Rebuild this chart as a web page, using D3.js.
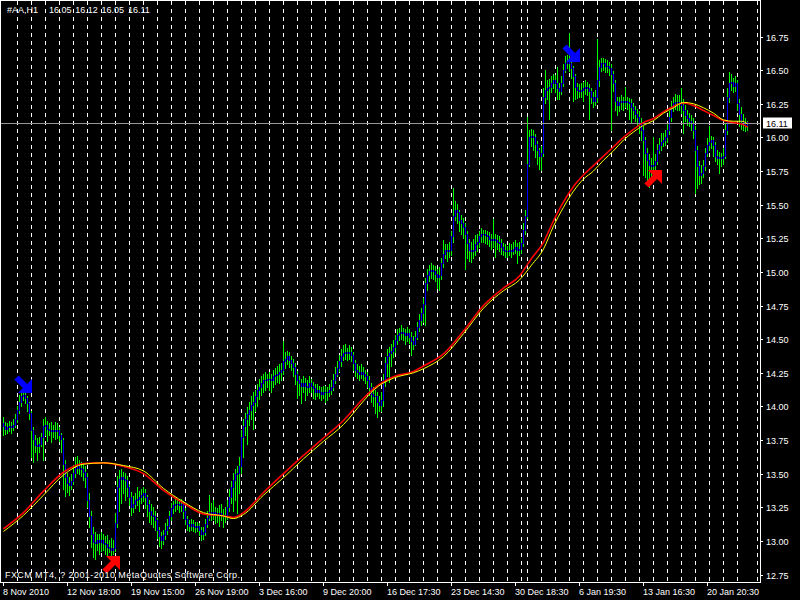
<!DOCTYPE html>
<html><head><meta charset="utf-8">
<script src="https://cdn.jsdelivr.net/npm/d3@7"></script>
<style>
html,body{margin:0;padding:0;background:#000;}
svg{display:block;}
text{font-family:"Liberation Sans",Arial,sans-serif;}
</style></head>
<body><svg id="chart" width="800" height="600"></svg>
<script>
// ---------------- DATA ----------------
const symbolLabel = "#AA,H1";
const lastQuote = [16.05, 16.12, 16.05, 16.11];   // O H L C of last bar
const bidPrice = 16.11;
const firstOpen = 13.87;
const footerText = "FXCM MT4, ? 2001-2010 MetaQuotes Software Corp.";

const closes = [
13.85,13.83,13.84,13.85,13.84,13.86,13.90,
13.97,14.03,14.07,14.08,14.06,14.02,13.95,
13.82,13.75,13.71,13.70,13.72,13.77,13.85,
13.86,13.83,13.82,13.81,13.82,13.81,13.82,
13.78,13.75,13.57,13.47,13.43,13.41,13.44,
13.50,13.54,13.55,13.54,13.53,13.51,13.47,
13.30,13.18,13.05,12.99,12.98,13.00,12.99,
13.00,12.98,12.97,12.95,12.94,12.93,12.94,
13.13,13.40,13.46,13.47,13.46,13.45,13.40,
13.32,13.25,13.27,13.30,13.31,13.32,13.34,
13.35,13.32,13.27,13.22,13.19,13.18,13.15,
13.08,13.03,13.00,13.04,13.08,13.11,13.18,
13.24,13.26,13.27,13.27,13.26,13.27,13.22,
13.16,13.12,13.11,13.12,13.11,13.10,13.11,
13.08,13.05,13.06,13.12,13.17,13.21,13.20,
13.21,13.20,13.19,13.20,13.19,13.18,13.19,
13.25,13.32,13.40,13.45,13.49,13.50,13.55,
13.77,13.85,13.90,13.94,13.97,14.01,14.03,
14.07,14.12,14.14,14.17,14.19,14.19,14.20,
14.20,14.19,14.22,14.23,14.24,14.25,14.27,
14.33,14.35,14.37,14.34,14.32,14.29,14.24,
14.19,14.17,14.15,14.17,14.15,14.14,14.17,
14.15,14.13,14.10,14.12,14.10,14.09,14.10,
14.10,14.10,14.12,14.14,14.19,14.24,14.28,
14.33,14.37,14.39,14.40,14.39,14.40,14.38,
14.32,14.27,14.25,14.24,14.25,14.24,14.22,
14.19,14.14,14.09,14.07,14.07,14.03,14.01,
14.04,14.19,14.32,14.37,14.39,14.41,14.44,
14.49,14.53,14.54,14.55,14.54,14.53,14.54,
14.51,14.48,14.46,14.51,14.59,14.64,14.69,
14.76,14.91,14.97,15.00,15.01,15.00,14.98,
14.96,14.97,15.06,15.13,15.16,15.15,15.16,
15.26,15.41,15.46,15.44,15.38,15.36,15.33,
15.28,15.21,15.16,15.15,15.16,15.20,15.22,
15.26,15.28,15.28,15.27,15.26,15.24,15.23,
15.24,15.23,15.22,15.21,15.18,15.16,15.15,
15.15,15.16,15.15,15.17,15.18,15.16,15.17,
15.21,15.31,15.41,
15.80,16.00,16.01,16.00,15.95,15.90,15.86,
15.88,16.30,16.35,16.36,16.37,16.40,16.42,
16.40,16.36,16.34,16.40,16.50,16.55,16.56,
16.55,16.51,16.45,16.37,16.35,16.34,16.35,
16.36,16.37,16.36,16.34,16.30,16.27,16.30,
16.42,16.52,16.55,16.55,16.53,16.53,16.51,
16.47,16.40,16.27,16.24,16.26,16.27,16.26,
16.27,16.26,16.25,16.22,16.20,16.17,16.15,
16.10,16.05,15.98,15.88,15.83,15.79,15.78,
15.79,15.82,15.90,15.94,15.96,15.98,16.00,
16.05,16.15,16.22,16.25,16.26,16.26,16.25,
16.24,16.20,16.16,16.14,16.12,16.10,16.05,
15.90,15.78,15.72,15.73,15.78,15.88,15.94,
15.96,15.98,15.94,15.86,15.84,15.85,15.84,
15.86,16.05,16.30,16.40,16.41,16.38,16.40,
16.25,16.17,16.12,16.10,16.09,16.11
];

const highs = [
13.92,13.88,13.87,13.89,13.88,13.90,13.94,
14.00,14.08,14.12,14.11,14.10,14.07,14.03,
13.96,13.84,13.78,13.76,13.77,13.80,13.90,
13.92,13.89,13.87,13.88,13.86,13.88,13.87,
13.84,13.80,13.76,13.60,13.50,13.47,13.49,
13.56,13.62,13.63,13.60,13.58,13.57,13.55,
13.50,13.35,13.22,13.10,13.06,13.05,13.05,
13.06,13.05,13.03,13.04,13.00,13.02,13.00,
13.20,13.48,13.52,13.53,13.51,13.50,13.48,
13.42,13.36,13.33,13.35,13.40,13.37,13.38,
13.40,13.38,13.34,13.30,13.27,13.25,13.22,
13.17,13.10,13.06,13.08,13.13,13.16,13.22,
13.28,13.29,13.31,13.30,13.29,13.31,13.29,
13.24,13.18,13.15,13.16,13.15,13.14,13.14,
13.13,13.10,13.10,13.16,13.22,13.34,13.28,
13.30,13.25,13.24,13.26,13.27,13.23,13.25,
13.30,13.38,13.44,13.50,13.53,13.55,13.62,
13.82,13.90,13.95,13.99,14.03,14.07,14.10,
14.12,14.16,14.20,14.22,14.24,14.25,14.24,
14.25,14.24,14.27,14.28,14.30,14.31,14.32,
14.48,14.40,14.41,14.40,14.37,14.35,14.32,
14.26,14.22,14.20,14.22,14.21,14.19,14.22,
14.20,14.18,14.16,14.16,14.15,14.14,14.15,
14.15,14.14,14.16,14.19,14.24,14.29,14.33,
14.38,14.42,14.45,14.46,14.43,14.45,14.44,
14.40,14.34,14.31,14.30,14.31,14.29,14.27,
14.25,14.22,14.17,14.14,14.12,14.10,14.07,
14.10,14.24,14.36,14.42,14.44,14.46,14.49,
14.53,14.57,14.58,14.60,14.58,14.57,14.59,
14.57,14.55,14.52,14.56,14.62,14.68,14.73,
14.80,14.95,15.02,15.05,15.06,15.05,15.04,
15.02,15.03,15.10,15.23,15.20,15.20,15.22,
15.30,15.62,15.52,15.50,15.46,15.42,15.40,
15.36,15.30,15.24,15.22,15.24,15.27,15.28,
15.30,15.32,15.31,15.31,15.30,15.29,15.28,
15.39,15.28,15.27,15.26,15.24,15.21,15.20,
15.19,15.21,15.20,15.22,15.23,15.21,15.22,
15.25,15.36,15.46,
16.15,16.05,16.06,16.05,16.02,15.97,15.92,
15.93,16.36,16.50,16.42,16.43,16.45,16.47,
16.46,16.52,16.40,16.45,16.54,16.60,16.61,
16.77,16.58,16.53,16.47,16.40,16.39,16.40,
16.41,16.42,16.41,16.39,16.36,16.33,16.35,
16.73,16.57,16.59,16.59,16.58,16.57,16.56,
16.54,16.49,16.42,16.30,16.30,16.31,16.30,
16.37,16.30,16.29,16.28,16.25,16.23,16.21,
16.19,16.14,16.08,16.00,15.92,15.87,15.84,
16.00,15.87,15.95,15.99,16.03,16.03,16.05,
16.10,16.19,16.27,16.30,16.32,16.31,16.31,
16.36,16.28,16.24,16.20,16.18,16.16,16.14,
16.08,15.93,15.82,15.79,15.83,15.92,15.99,
16.08,16.01,16.00,15.96,15.90,15.89,15.88,
15.92,16.10,16.36,16.48,16.47,16.44,16.45,
16.42,16.28,16.22,16.17,16.14,16.12
];

const lows = [
13.78,13.79,13.80,13.81,13.80,13.82,13.84,
13.88,13.95,14.00,14.04,14.02,13.96,13.90,
13.62,13.58,13.66,13.60,13.66,13.70,13.60,
13.78,13.74,13.78,13.73,13.77,13.75,13.76,
13.74,13.66,13.38,13.33,13.36,13.34,13.38,
13.42,13.47,13.50,13.49,13.48,13.45,13.40,
13.25,13.10,12.95,12.88,12.86,12.93,12.90,
12.92,12.93,12.90,12.89,12.91,12.88,12.90,
12.92,13.10,13.22,13.28,13.35,13.30,13.33,
13.26,13.19,13.21,13.24,13.26,13.22,13.28,
13.29,13.24,13.18,13.14,13.12,13.10,13.08,
13.02,12.96,12.94,12.97,13.01,13.05,13.09,
13.15,13.20,13.22,13.23,13.21,13.22,13.17,
13.12,13.08,13.07,13.08,13.07,13.06,13.07,
13.04,13.00,13.01,13.04,13.10,13.15,13.15,
13.16,13.13,13.14,13.11,13.15,13.10,13.14,
13.16,13.22,13.28,13.22,13.30,13.20,13.35,
13.50,13.62,13.78,13.72,13.86,13.90,13.83,
13.96,14.00,14.05,14.08,14.10,14.12,14.14,
14.12,14.10,14.14,14.16,14.18,14.17,14.19,
14.24,14.28,14.31,14.29,14.27,14.22,14.16,
14.06,14.08,14.02,14.10,14.04,14.08,14.10,
14.10,14.06,14.05,14.07,14.06,14.04,14.06,
14.03,14.04,14.07,14.09,14.12,14.17,14.22,
14.26,14.30,14.34,14.35,14.34,14.35,14.33,
14.27,14.22,14.21,14.19,14.21,14.19,14.17,
14.14,14.08,14.03,14.00,13.95,13.92,13.96,
13.96,14.00,14.15,14.22,14.18,14.30,14.36,
14.40,14.46,14.49,14.50,14.49,14.46,14.48,
14.47,14.38,14.42,14.45,14.50,14.56,14.60,
14.62,14.60,14.86,14.93,14.95,14.94,14.93,
14.88,14.86,14.94,15.03,15.10,15.08,15.11,
15.12,15.22,15.38,15.36,15.30,15.28,15.25,
15.02,15.10,15.08,15.07,15.10,15.12,15.15,
15.18,15.22,15.22,15.21,15.20,15.19,15.17,
15.18,15.11,15.17,15.15,15.13,15.12,15.11,
15.11,15.12,15.11,15.13,15.14,15.06,15.12,
15.14,15.19,15.28,
15.40,15.78,15.93,15.90,15.85,15.80,15.76,
15.75,15.86,16.25,16.28,16.13,16.33,16.36,
16.33,16.28,16.28,16.32,16.38,16.48,16.51,
16.49,16.44,16.27,16.28,16.29,16.30,16.30,
16.27,16.32,16.31,16.13,16.25,16.22,16.24,
16.26,16.38,16.49,16.50,16.48,16.48,16.46,
16.05,16.34,16.20,16.16,16.19,16.21,16.20,
16.22,16.21,16.13,16.10,16.14,16.12,16.09,
16.03,15.98,15.72,15.70,15.66,15.63,15.70,
15.72,15.75,15.80,15.88,15.90,15.93,15.94,
15.96,16.02,16.12,16.19,16.21,16.20,16.20,
16.18,16.03,16.12,16.09,16.08,16.05,15.99,
15.58,15.62,15.65,15.66,15.70,15.75,15.86,
15.90,15.92,15.86,15.82,15.80,15.73,15.78,
15.80,15.84,16.02,16.26,16.35,16.33,16.34,
16.20,16.08,16.06,16.05,16.04,16.05
];

// moving averages read at sample bars
const maBars = [0,10,20,30,40,50,60,70,80,90,100,110,115,120,130,140,150,160,170,180,185,195,205,210,220,230,240,250,258,264,270,275,280,285,290,295,300,305,310,315,320,325,330,335,340,345,350,355,360,365,369,372];
const maYellow = [13.07,13.19,13.34,13.49,13.57,13.58,13.56,13.52,13.39,13.29,13.21,13.185,13.166,13.196,13.34,13.47,13.61,13.74,13.865,14.04,14.12,14.21,14.25,14.28,14.37,14.54,14.73,14.86,14.94,15.05,15.17,15.34,15.48,15.60,15.69,15.75,15.83,15.90,15.98,16.04,16.09,16.125,16.18,16.22,16.26,16.25,16.22,16.18,16.13,16.12,16.12,16.10];
const maRed = [13.09,13.21,13.37,13.51,13.575,13.58,13.555,13.50,13.375,13.28,13.20,13.185,13.174,13.21,13.36,13.50,13.635,13.765,13.895,14.06,14.13,14.22,14.26,14.30,14.39,14.56,14.75,14.88,14.97,15.10,15.22,15.38,15.52,15.635,15.72,15.79,15.86,15.93,16.00,16.06,16.11,16.14,16.19,16.23,16.256,16.237,16.20,16.163,16.125,16.11,16.10,16.077];

// signal arrows
const signalBars = [10, 284, 54, 325];
const signalPrices = [14.166, 16.627, 12.82, 15.687];
const signalTypes = ["sell", "sell", "buy", "buy"];

// axes
const priceTicks = [12.75,13.00,13.25,13.50,13.75,14.00,14.25,14.50,14.75,15.00,15.25,15.50,15.75,16.00,16.25,16.50,16.75];
const dateTickBars = [0,32,64,96,128,160,192,224,256,288,320,352];
const dateLabels = ["8 Nov 2010","12 Nov 18:00","19 Nov 15:00","26 Nov 19:00","3 Dec 16:00","9 Dec 20:00","16 Dec 17:30","23 Dec 14:30","30 Dec 18:30","6 Jan 19:30","13 Jan 16:30","20 Jan 20:30"];
const sessionStarts = [7,14,21,28,35,42,49,56,63,70,77,84,91,98,105,112,119,126,133,140,147,154,161,168,175,182,189,196,203,210,217,224,231,238,245,252,259,262,269,276,283,290,297,304,311,318,325,332,339,346,353,360,367,377];

// ---------------- DRAW ----------------
const W = 800, H = 600, PR = 760, PB = 582;
const x = d3.scaleLinear().domain([0, 1]).range([3, 5]);
const y = d3.scaleLinear().domain([12.75, 16.75]).range([574.5, 36.5]);
const px = i => Math.round(x(i));

const svg = d3.select("#chart");
svg.append("rect").attr("width", W).attr("height", H).attr("fill", "#000");

// vertical dashed grid
svg.append("g").attr("shape-rendering", "crispEdges")
  .selectAll("line").data(sessionStarts).join("line")
  .attr("x1", d => px(d) + 0.5).attr("x2", d => px(d) + 0.5)
  .attr("y1", 1).attr("y2", PB)
  .attr("stroke", "#ffffff").attr("stroke-width", 1).attr("stroke-dasharray", "4,4");

// candles: green shadows, blue bodies
const bars = closes.map((c, i) => ({
  i, c, o: i === 0 ? firstOpen : closes[i - 1], h: highs[i], l: lows[i]
}));
const barTop = d => Math.floor(y(Math.max(d.h, d.o, d.c)));
const barBot = d => Math.ceil(y(Math.min(d.l, d.o, d.c)));
const bodyTop = d => Math.floor(y(Math.max(d.o, d.c)));
const bodyBot = d => Math.ceil(y(Math.min(d.o, d.c)));
const cg = svg.append("g").attr("shape-rendering", "crispEdges");
cg.selectAll("line.w").data(bars).join("line").attr("class", "w")
  .attr("x1", d => px(d.i) + 0.5).attr("x2", d => px(d.i) + 0.5)
  .attr("y1", barTop).attr("y2", d => Math.max(barBot(d), barTop(d) + 1))
  .attr("stroke", "rgb(0,255,0)").attr("stroke-width", 1);
cg.selectAll("line.b").data(bars).join("line").attr("class", "b")
  .attr("x1", d => px(d.i) + 0.5).attr("x2", d => px(d.i) + 0.5)
  .attr("y1", bodyTop).attr("y2", d => Math.max(bodyBot(d), bodyTop(d) + 1))
  .attr("stroke", "rgb(0,0,255)").attr("stroke-width", 1);

// bid line
const by = Math.round(y(bidPrice)) + 0.5;
svg.append("line").attr("x1", 1).attr("x2", PR).attr("y1", by).attr("y2", by)
  .attr("stroke", "#969696").attr("shape-rendering", "crispEdges");

// moving averages
const line = d3.line().x(d => x(d[0]) + 0.5).y(d => y(d[1])).curve(d3.curveMonotoneX);
svg.append("path").datum(maBars.map((b, k) => [b, maRed[k]]))
  .attr("d", line).attr("fill", "none").attr("stroke", "#ff0000").attr("stroke-width", 1.6);
svg.append("path").datum(maBars.map((b, k) => [b, maYellow[k]]))
  .attr("d", line).attr("fill", "none").attr("stroke", "#ffff00").attr("stroke-width", 1);

// arrows (heavy diagonal arrows: triangular head + thick shaft)
const sellPts = [[18,4],[18,18],[4,18],[8.9,13.1],[0.4,4.6],[4.6,0.4],[13.1,8.9]];
const buyPts = sellPts.map(p => [p[0], 18 - p[1]]);
signalBars.forEach((b, k) => {
  const cx = px(b), cy = Math.round(y(signalPrices[k]));
  const pts = signalTypes[k] === "sell" ? sellPts : buyPts;
  svg.append("polygon")
    .attr("points", pts.map(p => [cx - 9 + p[0], cy - 9 + p[1]].join(",")).join(" "))
    .attr("fill", signalTypes[k] === "sell" ? "#0000ff" : "#ff0000");
});

// frame / axes
const ax = svg.append("g").attr("shape-rendering", "crispEdges").attr("stroke", "#fff");
ax.append("line").attr("x1", 0.5).attr("x2", 0.5).attr("y1", 0).attr("y2", PB + 1);
ax.append("line").attr("x1", 0).attr("x2", PR + 1).attr("y1", 0.5).attr("y2", 0.5);
ax.append("line").attr("x1", PR + 0.5).attr("x2", PR + 0.5).attr("y1", 0).attr("y2", PB + 1);
ax.append("line").attr("x1", 0).attr("x2", PR + 1).attr("y1", PB + 0.5).attr("y2", PB + 0.5);

// price axis
priceTicks.forEach(p => {
  const ty = Math.round(y(p)) + 0.5;
  ax.append("line").attr("x1", PR).attr("x2", PR + 3).attr("y1", ty).attr("y2", ty);
  svg.append("text").attr("x", 766).attr("y", ty + 3.2).attr("fill", "#fff")
    .attr("font-size", 9).text(p.toFixed(2));
});
// current price box
svg.append("rect").attr("x", 763).attr("y", by - 6).attr("width", 29).attr("height", 11).attr("fill", "#fff");
svg.append("text").attr("x", 766).attr("y", by + 3.2).attr("fill", "#000")
  .attr("font-size", 9).text(bidPrice.toFixed(2));

// date axis
dateTickBars.forEach((b, k) => {
  const tx = px(b) + 0.5;
  ax.append("line").attr("x1", tx).attr("x2", tx).attr("y1", PB).attr("y2", PB + 4);
  svg.append("text").attr("x", px(b)).attr("y", 595).attr("fill", "#fff")
    .attr("font-size", 9).text(dateLabels[k]);
});

// title
const title = svg.append("text").attr("x", 7).attr("y", 13).attr("fill", "#fff").attr("font-size", 9);
title.append("tspan").text(symbolLabel);
lastQuote.forEach((q, k) => {
  title.append("tspan").attr("x", 49 + k * 26.3).text(q.toFixed(2));
});

// footer
svg.append("text").attr("x", 5).attr("y", 578).attr("fill", "#fff").attr("font-size", 9)
  .attr("textLength", 235).attr("lengthAdjust", "spacing").text(footerText);
</script>
</body></html>
